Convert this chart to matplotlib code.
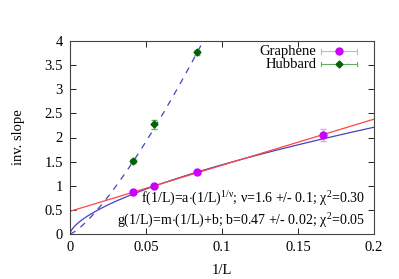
import matplotlib
matplotlib.use("Agg")
import matplotlib.pyplot as plt
import numpy as np

plt.rcParams['font.family'] = ['Liberation Serif', 'DejaVu Serif']
plt.rcParams['mathtext.fontset'] = 'custom'
plt.rcParams['mathtext.rm'] = 'Liberation Serif'
plt.rcParams['mathtext.it'] = 'Liberation Serif'

# data
inv_L = [1 / 24, 1 / 18, 1 / 12, 1 / 6]
graphene = [0.87, 0.99, 1.28, 2.05]
graphene_err = [0.03, 0.04, 0.04, 0.13]
hub_L = [1 / 24, 1 / 18, 1 / 12]
hubbard = [1.52, 2.27, 3.77]
hubbard_err = [0.04, 0.10, 0.05]

# fit parameters
a_fit, nu_fit = 6.05, 1.6
m_fit, b_fit = 9.55, 0.47
a_hub, p_hub = 97.0, 1.31

c_graph = '#cc00ff'
c_hub = '#006400'
c_blue = '#4444bb'
c_red = '#ff4444'

fig = plt.figure(figsize=(3.99, 2.79), dpi=100)
ax = fig.add_axes([70 / 399, 45 / 279, 304 / 399, 193 / 279])

x = np.linspace(0, 0.2, 400)
ax.plot(x, a_fit * x ** (1 / nu_fit), color=c_blue, lw=0.9)
ax.plot(x, m_fit * x + b_fit, color=c_red, lw=0.9)
ax.plot(x, a_hub * x ** p_hub, color=c_blue, lw=0.9, ls=(0, (5, 5)))

ax.errorbar(inv_L, graphene, yerr=graphene_err, fmt='o', ms=5, color=c_graph,
            ecolor='#e699ff', elinewidth=0.8, capsize=2, zorder=5)
ax.errorbar(hub_L, hubbard, yerr=hubbard_err, fmt='D', ms=3.5, color=c_hub,
            ecolor='#66aa66', elinewidth=0.8, capsize=2, zorder=5)

ax.set_xlim(0, 0.2)
ax.set_ylim(0, 4)
ax.set_xticks([0, 0.05, 0.1, 0.15, 0.2])
ax.set_xticklabels(['0', '0.05', '0.1', '0.15', '0.2'])
ax.set_yticks(np.arange(0, 4.01, 0.5))
ax.set_yticklabels(['0', '0.5', '1', '1.5', '2', '2.5', '3', '3.5', '4'])
ax.tick_params(direction='in', top=True, right=True, length=4, width=0.6,
               labelsize=10.5, pad=5)
for s in ax.spines.values():
    s.set_linewidth(0.8)
    s.set_color('#444444')

ax.set_xlabel('1/L', fontsize=10.5, labelpad=7)
ax.set_ylabel('inv. slope', fontsize=10.5, labelpad=14)

# legend drawn in gnuplot style
tr = ax.transAxes
for yy, lab, col, ecol, mk, ms in [(0.947, 'Graphene', c_graph, '#e699ff', 'o', 5),
                                   (0.880, 'Hubbard', c_hub, '#66aa66', 'D', 3.5)]:
    ax.plot([0.826, 0.944], [yy, yy], color=ecol, lw=0.8, transform=tr, clip_on=False)
    ax.plot([0.826, 0.826], [yy - 0.012, yy + 0.012], color=ecol, lw=0.8, transform=tr)
    ax.plot([0.944, 0.944], [yy - 0.012, yy + 0.012], color=ecol, lw=0.8, transform=tr)
    ax.plot([0.885], [yy], marker=mk, ms=ms, color=col, transform=tr)
    ax.text(0.81, yy, lab, ha='right', va='center', fontsize=10.5, transform=tr)

ax.text(0.97, 0.18, r'f(1/L)=a$\cdot$(1/L)$^{1/\nu}$; $\nu$=1.6 +/- 0.1; $\chi^2$=0.30',
        ha='right', va='center', fontsize=10, transform=tr)
ax.text(0.97, 0.07, r'g(1/L)=m$\cdot$(1/L)+b; b=0.47 +/- 0.02; $\chi^2$=0.05',
        ha='right', va='center', fontsize=10, transform=tr)

fig.savefig('out.png', dpi=100)
